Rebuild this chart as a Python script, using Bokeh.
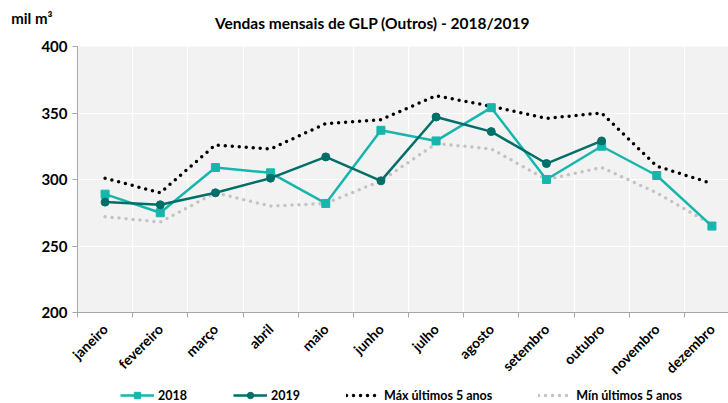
import numpy as np
from bokeh.plotting import figure
from bokeh.layouts import column
from bokeh.models import FixedTicker, Legend, LegendItem, Label, Range1d
from bokeh.embed import file_html
from bokeh.resources import INLINE

months = ["janeiro", "fevereiro", "março", "abril", "maio", "junho", "julho",
          "agosto", "setembro", "outubro", "novembro", "dezembro"]
v2018 = [289, 275, 309, 305, 282, 337, 329, 354, 300, 325, 303, 265]
v2019 = [283, 281, 290, 301, 317, 299, 347, 336, 312, 329]
vmax = [301, 290, 326, 323, 342, 345, 363, 355, 346, 350, 310, 297]
vmin = [272, 268, 290, 280, 282, 299, 327, 323, 300, 309, 290, 266]
y_ticks = [200, 250, 300, 350, 400]
title_text = "Vendas mensais de GLP (Outros) - 2018/2019"
unit_text = "mil m³"
legend_labels = ["2018", "2019", "Máx últimos 5 anos", "Mín últimos 5 anos"]

FONT = "Lato"
C2018 = "#17b6ad"
C2019 = "#006e69"
CMAX = "black"
CMIN = "#c3c3c3"

x_all = list(range(len(months)))
x19 = x_all[:len(v2019)]


def blank(height, with_yaxis=False):
    f = figure(width=728, height=height, x_range=Range1d(100, 101), y_range=Range1d(0, 1),
               x_axis_type=None, y_axis_type="linear" if with_yaxis else None,
               output_backend="svg", toolbar_location=None, min_border=0)
    f.outline_line_color = None
    f.background_fill_color = "white"
    f.border_fill_color = "white"
    f.grid.visible = False
    return f


# ---- header strip: unit (as horizontal axis label in the left border) + title
top = blank(34, with_yaxis=True)
ya = top.yaxis[0]
ya.ticker = FixedTicker(ticks=[])
ya.axis_line_color = None
ya.major_tick_line_color = None
ya.minor_tick_line_color = None
ya.axis_label = unit_text
ya.axis_label_orientation = "horizontal"
ya.axis_label_standoff = 25
ya.axis_label_text_font = FONT
ya.axis_label_text_font_style = "bold"
ya.axis_label_text_font_size = "15px"
ya.axis_label_text_color = "black"
top.add_layout(Label(x=295, y=12, x_units="screen", y_units="screen", text=title_text,
                     text_align="center", text_baseline="middle", text_font=FONT,
                     text_font_style="bold", text_font_size="15.5px", text_color="black"))

# ---- main chart
p = figure(width=728, height=352, x_range=Range1d(-0.5, 11.3), y_range=Range1d(200, 400),
           output_backend="svg", toolbar_location=None,
           min_border_left=77, min_border_right=0, min_border_top=12, min_border_bottom=74)
p.outline_line_color = None
p.background_fill_color = "#f2f2f2"
p.border_fill_color = "white"

p.yaxis.ticker = FixedTicker(ticks=y_ticks)
p.yaxis.axis_line_color = "#a6a6a6"
p.yaxis.major_tick_line_color = "#a6a6a6"
p.yaxis.major_tick_out = 5
p.yaxis.major_tick_in = 0
p.yaxis.minor_tick_line_color = None
p.yaxis.major_label_text_font = FONT
p.yaxis.major_label_text_font_style = "bold"
p.yaxis.major_label_text_font_size = "15px"
p.yaxis.major_label_text_color = "black"

bounds = [i - 0.5 for i in range(len(months) + 1)]
p.xaxis.ticker = FixedTicker(ticks=x_all, minor_ticks=bounds)
p.xaxis.major_label_overrides = {i: m for i, m in enumerate(months)}
p.xaxis.major_label_orientation = np.pi / 4
p.xaxis.major_tick_line_color = None
p.xaxis.minor_tick_line_color = "#a6a6a6"
p.xaxis.minor_tick_out = 5
p.xaxis.minor_tick_in = 0
p.xaxis.axis_line_color = "#a6a6a6"
p.xaxis.major_label_text_font = FONT
p.xaxis.major_label_text_font_style = "bold"
p.xaxis.major_label_text_font_size = "14px"
p.xaxis.major_label_text_color = "black"
p.xaxis.major_label_standoff = 8

p.xgrid.ticker = FixedTicker(ticks=bounds)
p.ygrid.ticker = FixedTicker(ticks=y_ticks)
p.xgrid.grid_line_color = "white"
p.ygrid.grid_line_color = "white"
p.xgrid.grid_line_width = 1.2
p.ygrid.grid_line_width = 1.2


def draw(f):
    rmax = f.line(x_all, vmax, line_color=CMAX, line_width=3.5, line_dash="0 7", line_cap="round")
    rmin = f.line(x_all, vmin, line_color=CMIN, line_width=3.5, line_dash="0 7", line_cap="round")
    a = f.line(x_all, v2018, line_color=C2018, line_width=2.5)
    b = f.scatter(x_all, v2018, marker="square", size=8, color=C2018)
    c = f.line(x19, v2019, line_color=C2019, line_width=2.5)
    d = f.scatter(x19, v2019, marker="circle", size=8, color=C2019)
    return [[a, b], [c, d], [rmax], [rmin]]


draw(p)

# ---- legend strip (same series, out of its visible range; only the legend shows)
leg = blank(17)
groups = draw(leg)
legend = Legend(items=[LegendItem(label=lab, renderers=g) for lab, g in zip(legend_labels, groups)],
                orientation="horizontal", location=(43, 0), spacing=46, glyph_width=34,
                glyph_height=16, label_height=16, label_standoff=4, padding=0, margin=0,
                border_line_color=None, background_fill_alpha=0, label_text_font=FONT,
                label_text_font_style="bold", label_text_font_size="12.5px",
                label_text_color="black")
leg.add_layout(legend, "center")

layout = column(top, p, leg, spacing=0)
open("out.html", "w").write(file_html(layout, INLINE))
